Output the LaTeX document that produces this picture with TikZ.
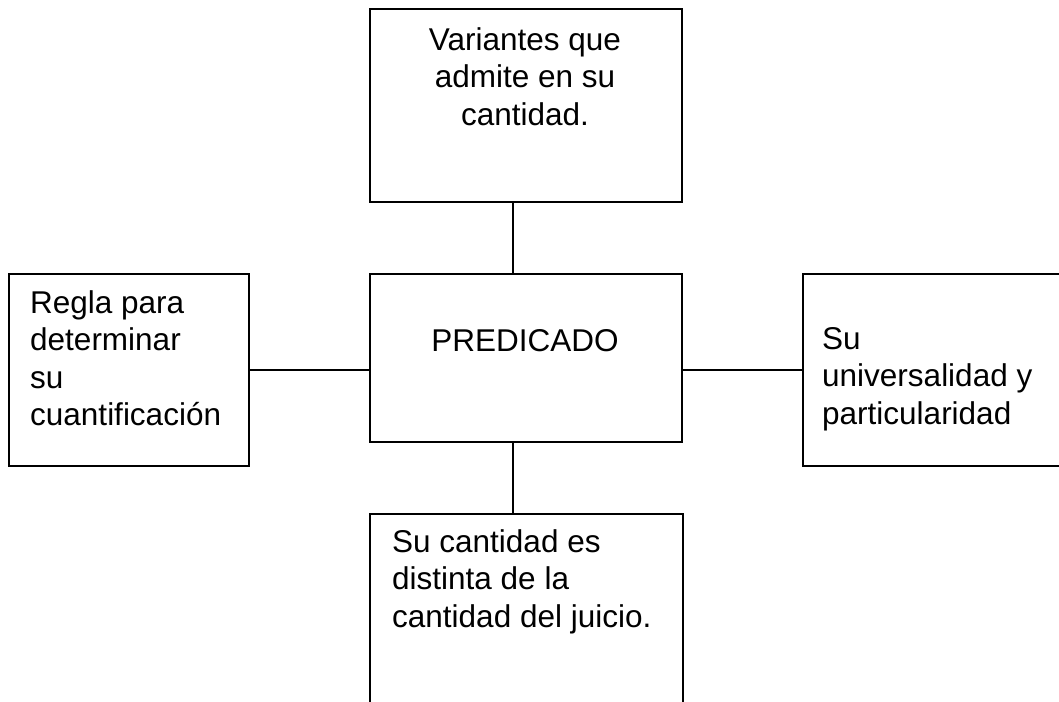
\documentclass[tikz,border=0pt]{standalone}
\usepackage{fontspec}
\setmainfont{Liberation Sans}
\begin{document}
\begin{tikzpicture}[x=1pt,y=1pt,
  box/.style={draw, line width=1.6pt, rectangle, inner sep=0pt, anchor=north west},
  txt/.style={inner sep=0pt, anchor=north west, align=left, font=\fontsize{31.5}{37.3}\selectfont},
  link/.style={line width=1.6pt}]
\useasboundingbox (0,0) rectangle (1059,701);
\clip (0,0) rectangle (1059,701);
\fill[white] (0,0) rectangle (1059,701);
% boxes
\node[box, minimum width=312pt, minimum height=193pt] (top) at (369,693) {};
\node[box, minimum width=312pt, minimum height=168pt] (mid) at (369,428) {};
\node[box, minimum width=240pt, minimum height=192pt] (left) at (8,428) {};
\node[box, minimum width=300pt, minimum height=192pt] (right) at (802,428) {};
\node[box, minimum width=313pt, minimum height=220pt] (bot) at (369,188) {};
% texts
\node[txt, anchor=north, align=center] (ttop) at (525,673.5) {Variantes que\\admite en su\\cantidad.};
\node[font=\fontsize{31.5}{37.3}\selectfont, inner sep=0pt, anchor=base] (tmid) at (525,349) {PREDICADO};
\node[txt] (tleft) at (30,410.5) {Regla para\\determinar\\su\\cuantificación};
\node[txt] (tright) at (822,373.5) {Su\\universalidad y\\particularidad};
\node[txt] (tbot) at (392,171.5) {Su cantidad es\\distinta de la\\cantidad del juicio.};
% connectors
\draw[link] (top.south -| 513,0) -- (mid.north -| 513,0);
\draw[link] (mid.south -| 513,0) -- (bot.north -| 513,0);
\draw[link] (left.east |- 0,331) -- (mid.west |- 0,331);
\draw[link] (mid.east |- 0,331) -- (right.west |- 0,331);
\end{tikzpicture}
\end{document}
